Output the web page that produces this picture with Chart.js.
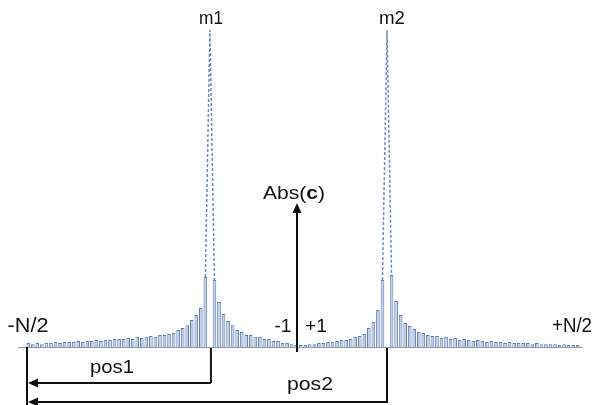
<!DOCTYPE html>
<html>
<head>
<meta charset="utf-8">
<script src="https://cdn.jsdelivr.net/npm/chart.js@4/dist/chart.umd.min.js"></script>
<style>
  html, body { margin: 0; padding: 0; background: #fff; }
  #wrap { width: 595px; height: 405px; position: relative; }
</style>
</head>
<body>
<div id="wrap"><canvas id="myChart"></canvas></div>
<script>
// |c| per frequency bin (peak = 100)
const leftTail = [1.3, 0.9, 1.3, 0.9, 1.3, 1.3, 1.6, 1.3, 1.6, 1.6, 1.6, 1.9, 1.6, 1.9, 1.9, 2.2, 1.9, 2.2, 2.2, 2.5,
                  2.5, 2.5, 2.8, 2.5, 3.2, 2.8, 3.2, 3.5, 3.2, 3.8, 3.8, 4.1, 4.4, 5.4, 6.0, 6.9, 8.5, 10.1, 12.3, 22.1];
const peak1 = [100];
const middle1 = [21.1, 14.2, 10.4, 8.2, 6.9, 5.4, 4.7, 3.8, 3.8, 3.2, 3.2, 2.5, 2.5, 1.9, 1.9, 1.3, 1.3, 0.9, 0.6];
const middle2 = [0.6, 0.6, 0.9, 0.9, 1.3, 1.3, 1.6, 1.6, 1.9, 2.2, 2.2, 2.5, 3.2, 3.5, 4.1, 6.0, 7.9, 11.7, 21.1];
const peak2 = [100];
const rightTail = [22.7, 14.5, 10.1, 7.6, 6.6, 5.7, 4.7, 4.4, 3.8, 3.5, 3.5, 2.8, 3.2, 2.5, 2.8, 2.2, 2.5, 2.2, 1.9, 2.2,
                   1.9, 1.6, 1.9, 1.6, 1.6, 1.3, 1.6, 1.3, 1.3, 1.3, 1.3, 0.9, 1.3, 0.9, 0.9, 0.9, 0.9, 0.6, 0.9, 0.6,
                   0.6, 0.6];

const absC = [].concat(leftTail, peak1, middle1, middle2, peak2, rightTail);
const peakBins = [leftTail.length, leftTail.length + 1 + middle1.length + middle2.length];
const bins = absC.map((v, i) => String(i));

// bars without the peaks, peaks drawn as dashed spikes
const stems = absC.map((v, i) => peakBins.includes(i) ? null : v);
const spikes = absC.map((v, i) => peakBins.some(p => Math.abs(i - p) <= 1) ? v : null);

const FONT = '"Liberation Sans", Arial, sans-serif';

function text(ctx, str, cx, cy, size, width, bold) {
    ctx.save();
    ctx.font = (bold ? 'bold ' : '') + size + 'px ' + FONT;
    const w = ctx.measureText(str).width;
    ctx.translate(cx, cy);
    ctx.scale(width / w, 1);
    ctx.textAlign = 'center';
    ctx.textBaseline = 'middle';
    ctx.fillText(str, 0, 0);
    ctx.restore();
}

function line(ctx, x1, y1, x2, y2) {
    ctx.beginPath();
    ctx.moveTo(x1, y1);
    ctx.lineTo(x2, y2);
    ctx.stroke();
}

function head(ctx, x, y, dir) {
    // dir: 'left' or 'up'
    ctx.beginPath();
    if (dir === 'left') {
        ctx.moveTo(x, y);
        ctx.lineTo(x + 10, y - 4.5);
        ctx.lineTo(x + 10, y + 4.5);
    } else {
        ctx.moveTo(x, y);
        ctx.lineTo(x - 4.5, y + 10);
        ctx.lineTo(x + 4.5, y + 10);
    }
    ctx.closePath();
    ctx.fill();
}

const baseline = {
    id: 'baseline',
    beforeDatasetsDraw(chart) {
        const ctx = chart.ctx;
        const y = chart.scales.y.getPixelForValue(0);
        ctx.save();
        ctx.strokeStyle = '#9a9a9a';
        ctx.lineWidth = 1;
        line(ctx, 18, y + 0.5, 583, y + 0.5);
        ctx.restore();
    }
};

const notes = {
    id: 'notes',
    afterDraw(chart) {
        const ctx = chart.ctx;
        const xs = chart.scales.x;
        const y0 = chart.scales.y.getPixelForValue(0);
        const x1 = xs.getPixelForValue(peakBins[0]);
        const x2 = xs.getPixelForValue(peakBins[1]);
        const left = 27;
        const mid = 297;
        ctx.save();
        ctx.fillStyle = '#111';
        ctx.strokeStyle = '#111';
        ctx.lineWidth = 2;

        // vertical markers and pos arrows
        line(ctx, left, y0, left, 405);
        line(ctx, x1 + 1, y0 + 1, x1 + 1, 383);
        line(ctx, x2, y0 + 1, x2, 403);
        line(ctx, x1 + 1, 383, left + 6, 383);
        head(ctx, left + 1, 383, 'left');
        line(ctx, x2, 402, left + 6, 402);
        head(ctx, left + 1, 402, 'left');

        // centre axis arrow
        line(ctx, mid, 352, mid, 212);
        head(ctx, mid, 203, 'up');

        // labels
        text(ctx, 'm1', 211, 19, 19, 24);
        text(ctx, 'm2', 392, 19, 19, 26);
        text(ctx, '-N/2', 28, 326, 20, 41);
        text(ctx, '+N/2', 572, 326, 20, 40);
        text(ctx, '-1', 283, 327, 19, 17);
        text(ctx, '+1', 316, 327, 19, 22);
        text(ctx, 'pos1', 112, 368, 19, 44);
        text(ctx, 'pos2', 310, 385, 19, 46);

        // Abs(c) with bold c
        ctx.font = '18px ' + FONT;
        const wa = ctx.measureText('Abs(').width;
        const wp = ctx.measureText(')').width;
        ctx.font = 'bold 18px ' + FONT;
        const wc = ctx.measureText('c').width;
        const total = wa + wc + wp;
        const sx = 62 / total;
        ctx.translate(294 - 31, 194);
        ctx.scale(sx, 1);
        ctx.textAlign = 'left';
        ctx.textBaseline = 'middle';
        ctx.font = '18px ' + FONT;
        ctx.fillText('Abs(', 0, 0);
        ctx.font = 'bold 18px ' + FONT;
        ctx.fillText('c', wa, 0);
        ctx.font = '18px ' + FONT;
        ctx.fillText(')', wa + wc, 0);
        ctx.restore();
    }
};

const ctx = document.getElementById('myChart').getContext('2d');

const myChart = new Chart(ctx, {
    type: 'bar',
    data: {
        labels: bins,
        datasets: [
            {
                label: 'Abs(c)',
                data: stems,
                backgroundColor: '#bfcfe8',
                borderColor: '#5f7cb0',
                borderWidth: 1,
                barPercentage: 0.8,
                categoryPercentage: 1.0
            },
            {
                type: 'line',
                label: 'peaks',
                data: spikes,
                borderColor: '#7189b5',
                borderWidth: 1.5,
                borderDash: [3, 2],
                pointRadius: 0,
                spanGaps: false,
                tension: 0
            }
        ]
    },
    options: {
        responsive: true,
        maintainAspectRatio: false,
        animation: false,
        layout: {
            padding: { left: 26, right: 15, top: 30, bottom: 58 }
        },
        plugins: {
            legend: { display: false },
            tooltip: { enabled: false }
        },
        scales: {
            x: { display: false, offset: true },
            y: { display: false, min: 0, max: 100 }
        }
    },
    plugins: [baseline, notes]
});
</script>
</body>
</html>
